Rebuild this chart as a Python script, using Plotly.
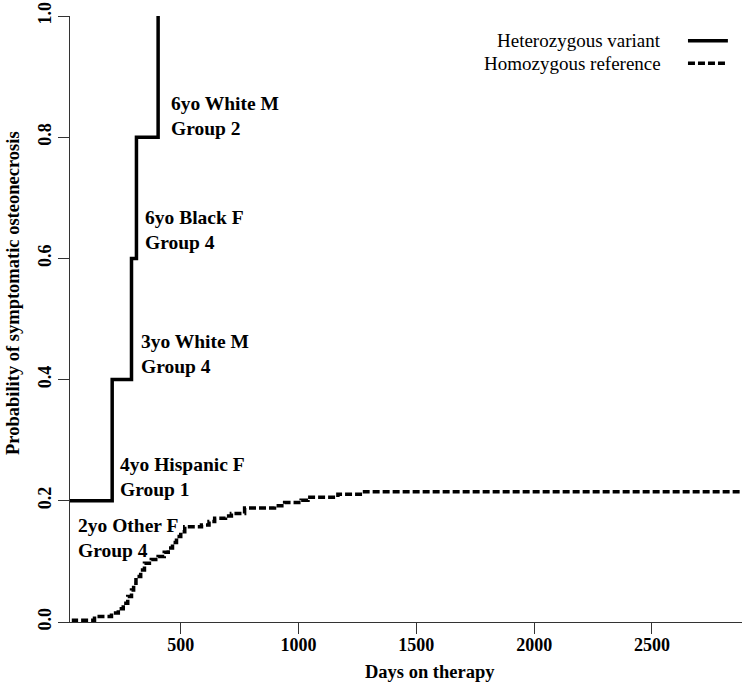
import plotly.graph_objects as go

# ---- data ----
het_days = [0, 209, 291, 312, 404]
het_prob = [0.2, 0.4, 0.6, 0.8, 1.0]

hom_days = [0, 45, 134, 206, 235, 256, 275, 291, 300, 310, 330, 346, 375, 404, 430, 447,
            465, 482, 500, 517, 588, 620, 644, 690, 715, 771, 898, 941, 1011, 1040, 1167,
            1280, 2882]
hom_prob = [0.0, 0.003, 0.009, 0.015, 0.022, 0.031, 0.042, 0.053, 0.064, 0.075, 0.086,
            0.097, 0.103, 0.108, 0.115, 0.122, 0.131, 0.141, 0.149, 0.157, 0.160, 0.166,
            0.171, 0.175, 0.179, 0.188, 0.192, 0.197, 0.201, 0.206, 0.211, 0.215, 0.215]

series_names = ["Heterozygous variant", "Homozygous reference"]

case_labels = ["6yo White M<br>Group 2", "6yo Black F<br>Group 4", "3yo White M<br>Group 4",
               "4yo Hispanic F<br>Group 1", "2yo Other F<br>Group 4"]
case_x = [450, 341, 323, 235, 55]
case_y = [0.835, 0.6475, 0.4415, 0.240, 0.1385]

x_ticks = [500, 1000, 1500, 2000, 2500]
y_ticks = [0.0, 0.2, 0.4, 0.6, 0.8, 1.0]

FONT = "Liberation Serif"

fig = go.Figure()
fig.add_trace(go.Scatter(x=het_days, y=het_prob, mode="lines", line_shape="hv",
                         line=dict(color="black", width=3.5), name=series_names[0],
                         showlegend=False))
fig.add_trace(go.Scatter(x=hom_days, y=hom_prob, mode="lines", line_shape="hv",
                         line=dict(color="black", width=3.5, dash="7px,3px"),
                         name=series_names[1], showlegend=False))

for t, x, y in zip(case_labels, case_x, case_y):
    fig.add_annotation(x=x, y=y, xref="x", yref="y", text="<b>" + t + "</b>",
                       showarrow=False, xanchor="left", yanchor="middle", align="left",
                       font=dict(family=FONT, size=19.5, color="black"))

# manual legend (text left, line sample right)
leg_y = [0.959, 0.922]
leg_dash = ["solid", "7px,3px"]
for name, ly, d in zip(series_names, leg_y, leg_dash):
    fig.add_annotation(x=0.8824, y=ly, xref="paper", yref="paper", text=name,
                       showarrow=False, xanchor="right", yanchor="middle",
                       font=dict(family=FONT, size=19, color="black"))
    fig.add_shape(type="line", xref="paper", yref="paper", x0=0.9196, x1=0.979,
                  y0=ly, y1=ly, line=dict(color="black", width=3.5, dash=d))

# axis titles
fig.add_annotation(x=0.536, y=-0.0825, xref="paper", yref="paper",
                   text="<b>Days on therapy</b>", showarrow=False,
                   xanchor="center", yanchor="middle",
                   font=dict(family=FONT, size=18.5, color="black"))
fig.add_annotation(x=-0.0848, y=0.543, xref="paper", yref="paper",
                   text="<b>Probability of symptomatic osteonecrosis</b>", showarrow=False,
                   xanchor="center", yanchor="middle", textangle=-90,
                   font=dict(family=FONT, size=18.5, color="black"))

fig.update_layout(
    width=749, height=685,
    margin=dict(l=70, r=7, t=16, b=63),
    paper_bgcolor="white", plot_bgcolor="white",
    font=dict(family=FONT, size=18, color="black"),
    xaxis=dict(range=[30, 2882], tickvals=x_ticks, ticktext=["<b>%d</b>" % v for v in x_ticks],
               showgrid=False, zeroline=False, showline=True, linecolor="#333", linewidth=1,
               ticks="outside", ticklen=11, tickcolor="#333", automargin=False,
               ticklabelstandoff=-5,
               tickfont=dict(family=FONT, size=18)),
    yaxis=dict(range=[0, 1], tickvals=y_ticks, ticktext=["<b>%.1f</b>" % v for v in y_ticks],
               tickangle=-90,
               showgrid=False, zeroline=False, showline=True, linecolor="#333", linewidth=1,
               ticks="outside", ticklen=11, tickcolor="#333", automargin=False,
               tickfont=dict(family=FONT, size=18)),
)

# remove the default page margin so the figure sits at the window's top-left corner
fig.write_html("out.html", config={"displayModeBar": False},
               post_script="document.body.style.margin='0';document.body.style.overflow='hidden';")
